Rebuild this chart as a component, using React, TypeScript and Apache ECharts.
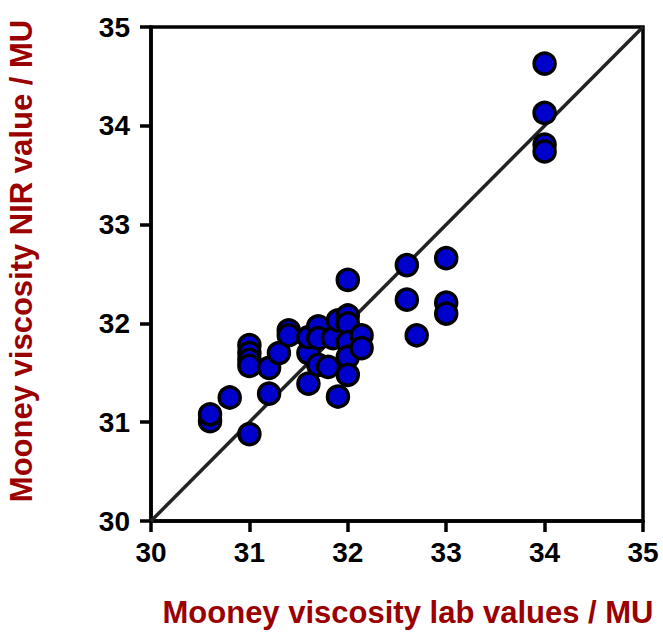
import React, { useEffect, useRef } from "react";
import * as echarts from "echarts";

const labValues = [
  30.6, 30.6, 30.8, 31.0, 31.0, 31.0, 31.0, 31.0, 31.2, 31.2, 31.3, 31.4, 31.4,
  31.6, 31.6, 31.6, 31.7, 31.7, 31.7, 31.8, 31.85, 31.9, 31.9, 32.0, 32.0, 32.0,
  32.0, 32.0, 32.0, 32.14, 32.14, 32.6, 32.6, 32.7, 33.0, 33.0, 33.0, 34.0, 34.0,
  34.0, 34.0,
];
const nirValues = [
  31.01, 31.08, 31.25, 30.88, 31.78, 31.7, 31.63, 31.57, 31.29, 31.55, 31.7,
  31.93, 31.88, 31.39, 31.7, 31.86, 31.97, 31.85, 31.58, 31.56, 31.85, 31.26,
  32.03, 32.44, 32.08, 32.0, 31.81, 31.66, 31.48, 31.88, 31.75, 32.59, 32.24,
  31.88, 32.66, 32.21, 32.1, 34.63, 34.13, 33.81, 33.74,
];
const diagonal = [30, 35];
const xTitle = "Mooney viscosity lab values / MU";
const yTitle = "Mooney viscosity NIR value / MU";

export default function App() {
  const ref = useRef<HTMLDivElement>(null);
  useEffect(() => {
    if (!ref.current) return;
    const chart = echarts.init(ref.current, null, { renderer: "svg" });
    const font = "'Liberation Sans', Arial, sans-serif";
    const axisCommon = {
      type: "value" as const,
      min: 30,
      max: 35,
      interval: 1,
      splitLine: { show: false },
      axisLine: { show: true, lineStyle: { color: "#000", width: 3.5 } },
      axisTick: { show: true, inside: false, length: 11, lineStyle: { color: "#000", width: 3.5 } },
      axisLabel: {
        color: "#000",
        fontSize: 28,
        fontWeight: "bold" as const,
        fontFamily: font,
      },
    };
    chart.setOption({
      animation: false,
      grid: {
        left: 151,
        top: 27,
        width: 492,
        height: 494,
        show: true,
        borderColor: "#000",
        borderWidth: 3.5,
        containLabel: false,
      },
      xAxis: { ...axisCommon, axisLabel: { ...axisCommon.axisLabel, margin: 17 } },
      yAxis: { ...axisCommon, axisLabel: { ...axisCommon.axisLabel, margin: 21 } },
      graphic: [
        {
          type: "text",
          x: 408,
          y: 612,
          style: {
            text: xTitle,
            fill: "#9B0000",
            font: `bold 31px ${font}`,
            textAlign: "center",
            textVerticalAlign: "middle",
          },
        },
        {
          type: "text",
          x: 21,
          y: 261,
          rotation: Math.PI / 2,
          style: {
            text: yTitle,
            fill: "#9B0000",
            font: `bold 31px ${font}`,
            textAlign: "center",
            textVerticalAlign: "middle",
          },
        },
      ],
      series: [
        {
          type: "line",
          data: diagonal.map((v) => [v, v]),
          symbol: "none",
          lineStyle: { color: "#222", width: 3.5 },
          z: 2,
        },
        {
          type: "scatter",
          data: labValues.map((x, i) => [x, nirValues[i]]),
          symbol: "circle",
          symbolSize: 21,
          itemStyle: { color: "#0000CD", borderColor: "#000", borderWidth: 3.5, opacity: 1 },
          z: 3,
        },
      ],
    });
    return () => chart.dispose();
  }, []);
  return (
    <div
      ref={ref}
      style={{ position: "fixed", left: 0, top: 0, width: 663, height: 637, background: "#fff" }}
    />
  );
}
